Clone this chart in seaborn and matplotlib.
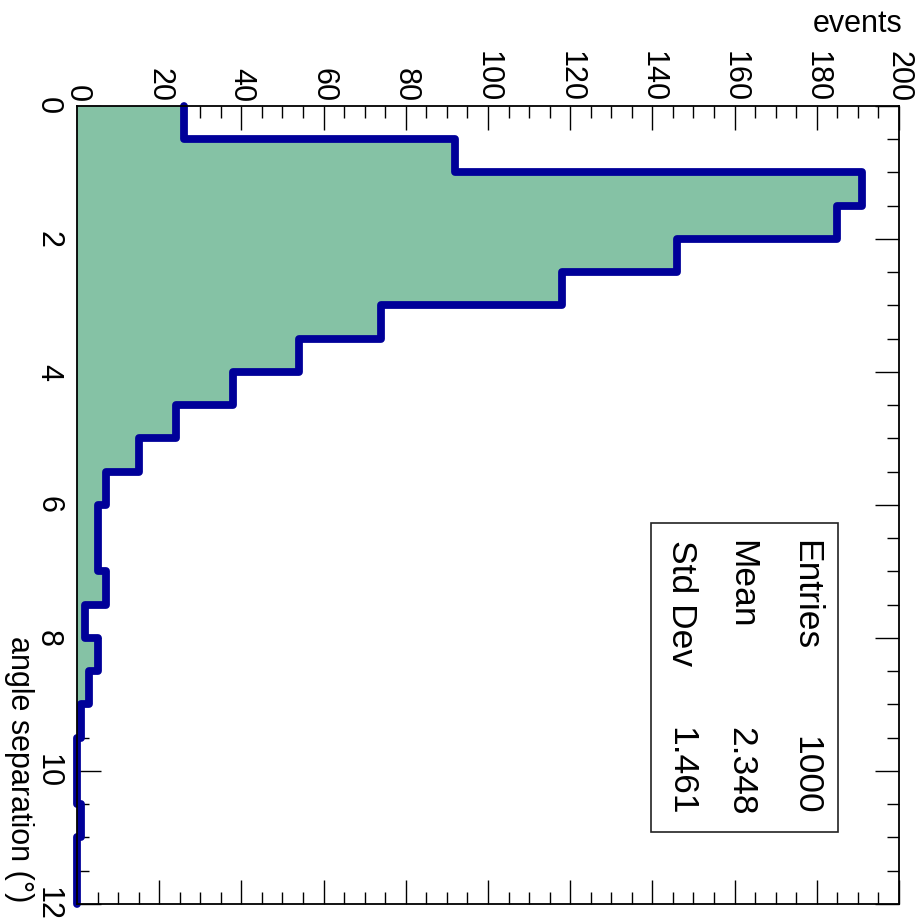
import numpy as np
import pandas as pd
import matplotlib
matplotlib.use("Agg")
import matplotlib.pyplot as plt
from matplotlib.ticker import MultipleLocator
from matplotlib.patches import Rectangle
import seaborn as sns

# ---- data ----
bin_edges = [i * 0.5 for i in range(25)]
bin_counts = [26, 92, 191, 185, 146, 118, 74, 54, 38, 24, 15, 7,
              5, 5, 7, 2, 5, 3, 1, 0, 0, 1, 0, 0]
stat_labels = ["Entries", "Mean", "Std Dev"]
stat_values = ["1000", "2.348", "1.461"]
x_title = "angle separation (°)"
y_title = "events"

bin_centers = [(a + b) / 2 for a, b in zip(bin_edges[:-1], bin_edges[1:])]
df = pd.DataFrame({"angle": bin_centers, "events": bin_counts})

sns.set_style("ticks")
plt.rcParams["font.family"] = ["Liberation Sans", "DejaVu Sans"]
plt.rcParams["text.color"] = "black"
plt.rcParams["xtick.color"] = "black"
plt.rcParams["ytick.color"] = "black"
plt.rcParams["xtick.labelcolor"] = "black"
plt.rcParams["ytick.labelcolor"] = "black"

fig = plt.figure(figsize=(9.2, 9.21), dpi=100)
ax = fig.add_axes([77 / 920, 17 / 921, 822 / 920, 798 / 921])

fill_col = "#85c2a5"
line_col = "#000099"

sns.histplot(data=df, y="angle", weights="events", bins=bin_edges,
             element="step", fill=True, color=fill_col, alpha=1.0,
             linewidth=0, ax=ax)
sns.histplot(data=df, y="angle", weights="events", bins=bin_edges,
             element="step", fill=False, color=line_col,
             linewidth=5.6, ax=ax)
for ln in ax.lines:
    ln.set_clip_on(False)
    ln.set_zorder(5)

ax.set_xlim(0, 200)
ax.set_ylim(12, 0)
ax.set_xlabel("")
ax.set_ylabel("")

ax.xaxis.set_major_locator(MultipleLocator(20))
ax.xaxis.set_minor_locator(MultipleLocator(5))
ax.yaxis.set_major_locator(MultipleLocator(2))
ax.yaxis.set_minor_locator(MultipleLocator(0.5))

ax.tick_params(which="both", direction="in", top=True, bottom=True,
               left=True, right=True, labeltop=True, labelbottom=False,
               labelleft=True, labelright=False, color="black", width=1.0,
               labelcolor="black")
ax.tick_params(which="major", length=17)
ax.tick_params(which="minor", length=8.5)
ax.tick_params(axis="x", which="major", pad=3, labelsize=22, labelrotation=-90)
ax.tick_params(axis="y", which="major", pad=10, labelsize=22, labelrotation=-90)
for lab in ax.get_yticklabels():
    lab.set_verticalalignment("center")

for sp in ax.spines.values():
    sp.set_visible(True)
    sp.set_linewidth(1.3)
    sp.set_color("black")
    sp.set_zorder(6)

ax.text(1.004, 1.093, y_title, transform=ax.transAxes, ha="right",
        va="baseline", fontsize=22, color="black")
ax.text(-0.071, 0.0025, x_title, transform=ax.transAxes, ha="center",
        va="bottom", rotation=-90, fontsize=22, color="black")

# stats box
box = Rectangle((0.698, 0.090), 0.228, 0.387, transform=ax.transAxes,
                facecolor="white", edgecolor="#222222", linewidth=1.2,
                zorder=7)
ax.add_patch(box)
xs = [0.886, 0.808, 0.735]
for lab, val, xc in zip(stat_labels, stat_values, xs):
    ax.text(xc, 0.456, lab, transform=ax.transAxes, ha="center", va="top",
            rotation=-90, fontsize=25.5, zorder=8, color="black")
    ax.text(xc, 0.1115, val, transform=ax.transAxes, ha="center",
            va="bottom", rotation=-90, fontsize=25.5, zorder=8, color="black")

fig.savefig("out.png", dpi=100, facecolor="white")
